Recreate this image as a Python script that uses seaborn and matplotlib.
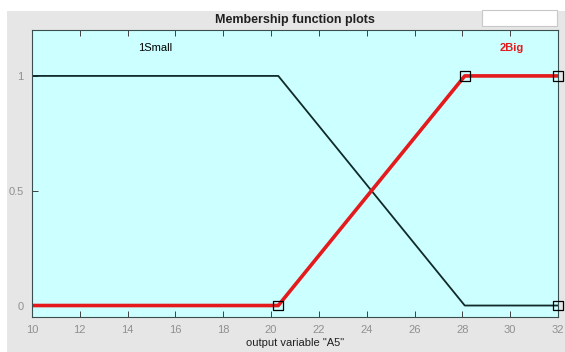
import matplotlib
matplotlib.use("Agg")
import matplotlib.pyplot as plt
import seaborn as sns
import pandas as pd
from matplotlib.patches import Rectangle

# Trapezoidal membership function parameters (a, b, c, d)
mf_names = ["1Small", "2Big"]
small_params = [10, 10, 20.3, 28.1]
big_params = [20.3, 28.1, 32, 32]
x_range = [10, 32]
x_ticks = [10, 12, 14, 16, 18, 20, 22, 24, 26, 28, 30, 32]
y_ticks = [0, 0.5, 1]
y_tick_labels = ["0", "0.5", "1"]


def trap_outline(p, lo, hi):
    a, b, c, d = p
    xs = [lo, a, b, c, d, hi]
    ys = [0, 0, 1, 1, 0, 0]
    pts = [(x, y) for x, y in zip(xs, ys) if lo <= x <= hi]
    # shoulders: a function that starts or ends at the range edge stays at 1 there
    out = []
    for x, y in pts:
        if out and out[-1][0] == x and x in (lo, hi):
            if (x == lo and p[0] == p[1] == lo) or (x == hi and p[2] == p[3] == hi):
                out[-1] = (x, 1)
                continue
        out.append((x, y))
    return pd.DataFrame(out, columns=["x", "mu"])


small_df = trap_outline(small_params, *x_range)
big_df = trap_outline(big_params, *x_range)

sns.set_style("white")
plt.rcParams["font.family"] = ["Liberation Sans", "DejaVu Sans"]

fig = plt.figure(figsize=(5.65, 3.52), dpi=100)
fig.patch.set_facecolor("white")
W, H = 565, 352
fig.patches.append(Rectangle((7 / W, 0), 1 - 7 / W, 1 - 11 / H, transform=fig.transFigure,
                             facecolor="#e6e6e6", edgecolor="none", zorder=-10))
fig.patches.append(Rectangle((482 / W, 1 - 26 / H), 75 / W, 16 / H, transform=fig.transFigure,
                             facecolor="white", edgecolor="#c8c8c8", linewidth=0.8, zorder=-5))

ax = fig.add_axes([32 / W, 1 - 317 / H, 526 / W, 287 / H])
ax.set_facecolor("#ccffff")

sns.lineplot(data=small_df, x="x", y="mu", ax=ax, color="#102a2a", linewidth=1.3,
             sort=False, estimator=None)
sns.lineplot(data=big_df, x="x", y="mu", ax=ax, color="#e41a1c", linewidth=2.6,
             sort=False, estimator=None)

# vertex handles of the selected (red) function
a, b, c, d = big_params
handles = pd.DataFrame({"x": [a, b, c, d], "mu": [0, 1, 1, 0]})
sns.scatterplot(data=handles, x="x", y="mu", ax=ax, marker="s", s=50,
                facecolor="none", edgecolor="black", linewidth=0.9, zorder=5, clip_on=False)

ax.text((small_params[0] + small_params[2]) / 2, 1.12, mf_names[0], ha="center", va="center",
        fontsize=8, color="black")
ax.text((big_params[1] + big_params[2]) / 2, 1.12, mf_names[1], ha="center", va="center",
        fontsize=8, color="#e41a1c", fontweight="bold")

ax.set_xlim(*x_range)
ax.set_ylim(-0.05, 1.2)
ax.set_xticks(x_ticks)
ax.set_yticks(y_ticks)
ax.set_yticklabels(y_tick_labels)
ax.tick_params(axis="both", direction="in", length=4, width=0.7, color="#404040",
               labelsize=8, labelcolor="#909090", pad=6)
ax.tick_params(axis="x", top=True, bottom=True)
ax.tick_params(axis="y", left=True, right=False)
for s in ax.spines.values():
    s.set_color("#3a5050")
    s.set_linewidth(0.8)

ax.set_xlabel('output variable "A5"', fontsize=8, color="#202020", labelpad=2)
ax.set_ylabel("")
ax.set_title("Membership function plots", fontsize=9, fontweight="bold", color="#202020", pad=5)

fig.savefig("out.png", dpi=100, facecolor=fig.get_facecolor())
